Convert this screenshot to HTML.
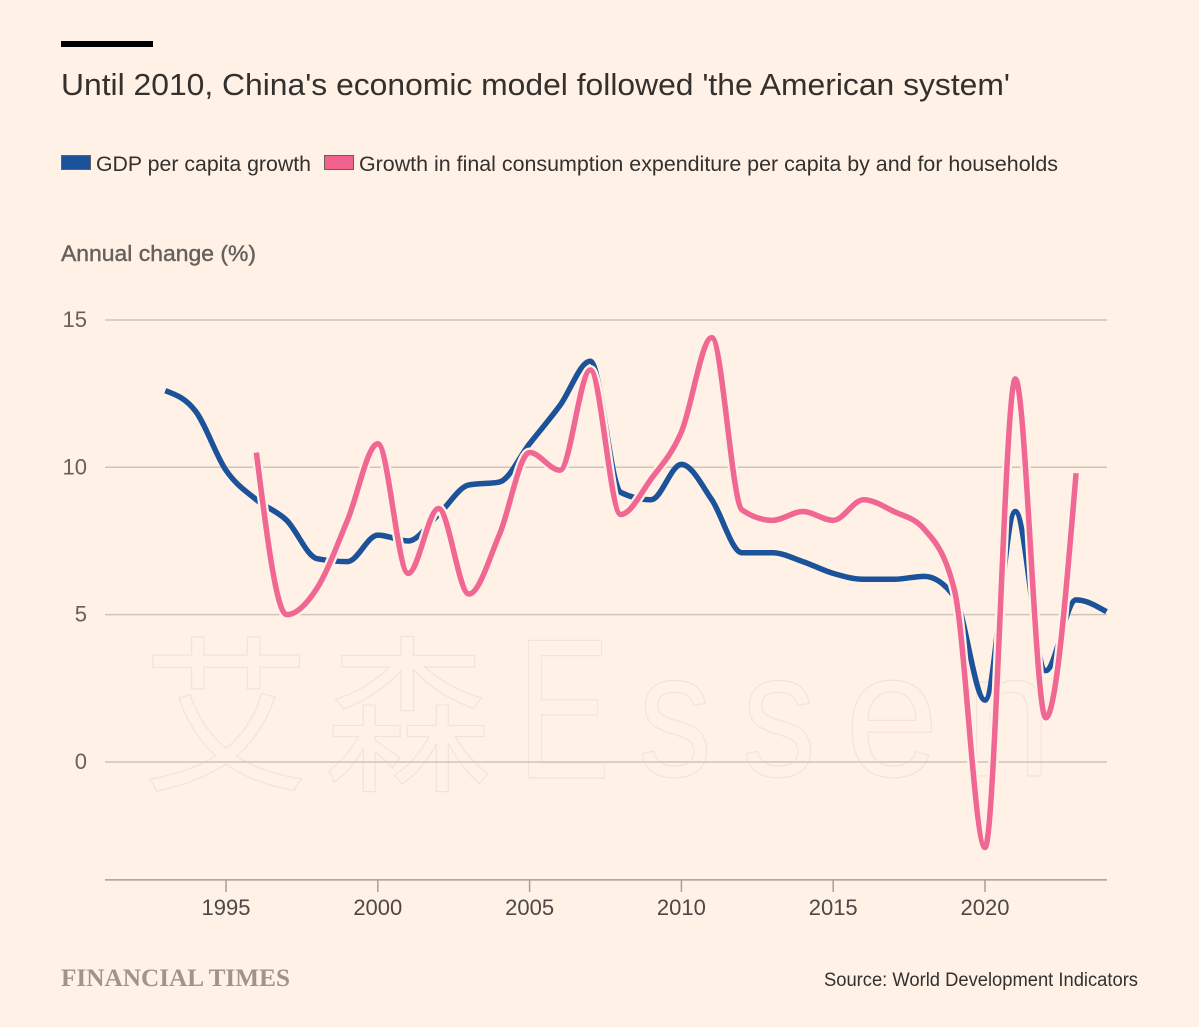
<!DOCTYPE html>
<html lang="en">
<head>
<meta charset="utf-8">
<title>Until 2010, China's economic model followed 'the American system'</title>
<style>
html,body{margin:0;padding:0;background:#fff1e5;}
svg{display:block;}
text{font-family:"Liberation Sans","Noto Sans CJK SC",sans-serif;}
</style>
</head>
<body>
<svg id="chart" xmlns="http://www.w3.org/2000/svg" width="1199" height="1027" viewBox="0 0 1199 1027">
  <rect x="0" y="0" width="1199" height="1027" fill="#fff1e5"/>
  <rect x="61" y="41" width="92" height="6" fill="#000"/>
  <text x="61" y="95" font-size="31" fill="#33302e" textLength="949" lengthAdjust="spacingAndGlyphs">Until 2010, China's economic model followed 'the American system'</text>

  <rect x="61.5" y="155.5" width="29" height="14" fill="#1b5299" stroke="#66605c" stroke-width="1"/>
  <text x="96" y="171" font-size="21" fill="#33302e" textLength="215" lengthAdjust="spacingAndGlyphs">GDP per capita growth</text>
  <rect x="324.5" y="155.5" width="29" height="14" fill="#f2628f" stroke="#66605c" stroke-width="1"/>
  <text x="359" y="171" font-size="21" fill="#33302e" textLength="699" lengthAdjust="spacingAndGlyphs">Growth in final consumption expenditure per capita by and for households</text>

  <text x="61" y="261" font-size="22" font-weight="400" fill="#66605c" stroke="#66605c" stroke-width="0.4" textLength="195" lengthAdjust="spacingAndGlyphs">Annual change (%)</text>

  <g id="watermark" fill="none" stroke="#b8a99a" stroke-opacity="0.18" stroke-width="1.2">
    <text x="142" y="778" font-size="168" style='font-family:"Noto Sans CJK SC",sans-serif'>艾</text>
    <text x="324" y="778" font-size="168" style='font-family:"Noto Sans CJK SC",sans-serif'>森</text>
    <text transform="translate(517 778) scale(0.7 1)" font-size="200">E</text>
    <text transform="translate(638 776) scale(0.83 1)" font-size="178">s</text>
    <text transform="translate(742 776) scale(0.83 1)" font-size="178">s</text>
    <text transform="translate(845 776) scale(0.95 1)" font-size="178">e</text>
    <text transform="translate(966 776) scale(0.86 1)" font-size="178">n</text>
  </g>

  <g id="y-grid"></g>
  <g id="x-axis"></g>
  <g id="series"></g>

  <text x="61" y="986" font-size="25" font-weight="700" fill="#9e9589" textLength="229" lengthAdjust="spacingAndGlyphs" style='font-family:"Liberation Serif",serif'>FINANCIAL TIMES</text>
  <text x="824" y="986" font-size="19" fill="#33302e" textLength="314" lengthAdjust="spacingAndGlyphs">Source: World Development Indicators</text>
</svg>
<script>
const yTicks = [15, 10, 5, 0];
const xTicks = [1995, 2000, 2005, 2010, 2015, 2020];
const gdpYears = [1993,1994,1995,1996,1997,1998,1999,2000,2001,2002,2003,2004,2005,2006,2007,2008,2009,2010,2011,2012,2013,2014,2015,2016,2017,2018,2019,2020,2021,2022,2023,2024];
const gdpValues = [12.6,11.9,9.9,8.9,8.2,6.9,6.8,7.7,7.5,8.4,9.4,9.5,10.8,12.1,13.6,9.15,8.9,10.1,8.9,7.1,7.1,6.8,6.4,6.2,6.2,6.3,5.6,2.1,8.5,3.1,5.5,5.1];
const consumptionYears = [1996,1997,1998,1999,2000,2001,2002,2003,2004,2005,2006,2007,2008,2009,2010,2011,2012,2013,2014,2015,2016,2017,2018,2019,2020,2021,2022,2023];
const consumptionValues = [10.5,5.0,5.9,8.2,10.8,6.4,8.6,5.7,7.7,10.5,9.9,13.3,8.4,9.6,11.2,14.4,8.55,8.2,8.5,8.2,8.9,8.5,7.9,5.8,-2.9,13.0,1.5,9.8];

const NS = 'http://www.w3.org/2000/svg';
const xScale = function (year) { return 226 + (year - 1995) * 30.36; };
const yScale = function (v) { return 762 - v * 29.47; };
const plotLeft = 105;
const plotRight = 1107;
const axisY = yScale(-4);

function make(tag, attrs, parent) {
  const el = document.createElementNS(NS, tag);
  Object.keys(attrs).forEach(function (k) { el.setAttribute(k, attrs[k]); });
  parent.appendChild(el);
  return el;
}

/* Monotone-X interpolation: flat tangents at local extrema */
function curve(years, values) {
  const pts = years.map(function (y, i) { return [xScale(y), yScale(values[i])]; });
  const n = pts.length;
  const tan = new Array(n);
  for (let i = 1; i < n - 1; i++) {
    const h0 = pts[i][0] - pts[i - 1][0];
    const h1 = pts[i + 1][0] - pts[i][0];
    const s0 = (pts[i][1] - pts[i - 1][1]) / h0;
    const s1 = (pts[i + 1][1] - pts[i][1]) / h1;
    const p = (s0 * h1 + s1 * h0) / (h0 + h1);
    tan[i] = (Math.sign(s0) + Math.sign(s1)) * Math.min(Math.abs(s0), Math.abs(s1), 0.5 * Math.abs(p));
  }
  tan[0] = (3 * (pts[1][1] - pts[0][1]) / (pts[1][0] - pts[0][0]) - tan[1]) / 2;
  tan[n - 1] = (3 * (pts[n - 1][1] - pts[n - 2][1]) / (pts[n - 1][0] - pts[n - 2][0]) - tan[n - 2]) / 2;
  let d = 'M' + pts[0][0].toFixed(2) + ',' + pts[0][1].toFixed(2);
  for (let i = 0; i < n - 1; i++) {
    const dx = (pts[i + 1][0] - pts[i][0]) / 3;
    d += 'C' + (pts[i][0] + dx).toFixed(2) + ',' + (pts[i][1] + dx * tan[i]).toFixed(2) + ' ' +
      (pts[i + 1][0] - dx).toFixed(2) + ',' + (pts[i + 1][1] - dx * tan[i + 1]).toFixed(2) + ' ' +
      pts[i + 1][0].toFixed(2) + ',' + pts[i + 1][1].toFixed(2);
  }
  return d;
}

const gridGroup = document.getElementById('y-grid');
yTicks.forEach(function (t) {
  const line = make('line', {x1: plotLeft, x2: plotRight, y1: yScale(t), y2: yScale(t), stroke: '#cfc4b8', 'stroke-width': 1.5}, gridGroup);
  
  
  const label = make('text', {x: 87, y: yScale(t) + 7, 'font-size': 22, 'text-anchor': 'end', fill: '#66605c'}, gridGroup);
  
  
  label.textContent = t;
});

const xGroup = document.getElementById('x-axis');
const axisLine = make('line', {x1: plotLeft, x2: plotRight, y1: axisY, y2: axisY, stroke: '#a89e93', 'stroke-width': 1.5}, xGroup);


xTicks.forEach(function (t) {
  const tick = make('line', {x1: xScale(t), x2: xScale(t), y1: axisY, y2: axisY + 12, stroke: '#a89e93', 'stroke-width': 1.5}, xGroup);
  
  
  const label = make('text', {x: xScale(t), y: axisY + 35, 'font-size': 22, 'text-anchor': 'middle', fill: '#4d4845'}, xGroup);
  
  
  label.textContent = t;
});

const seriesGroup = document.getElementById('series');
const gdpLine = make('path', {d: curve(gdpYears, gdpValues), fill: 'none', stroke: '#1b5299', 'stroke-width': 5.5}, seriesGroup);


const halo = make('path', {d: curve(consumptionYears, consumptionValues), fill: 'none', stroke: '#fff1e5', 'stroke-width': 10}, seriesGroup);


const consumptionLine = make('path', {d: curve(consumptionYears, consumptionValues), fill: 'none', stroke: '#ef6792', 'stroke-width': 5.5}, seriesGroup);


</script>
</body>
</html>
